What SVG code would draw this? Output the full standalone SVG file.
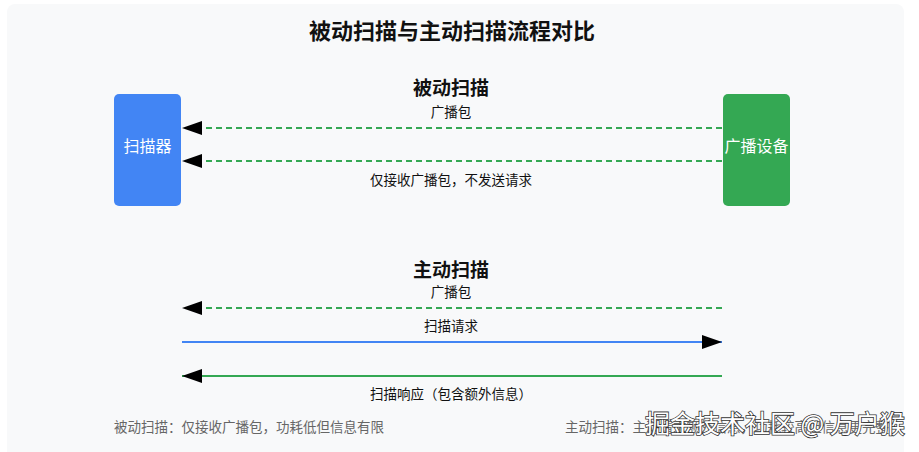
<svg xmlns="http://www.w3.org/2000/svg" width="919" height="452" viewBox="0 0 919 452">
<style>
text{font-family:"Noto Sans CJK SC","Noto Sans",sans-serif;}
.title{font-size:22px;font-weight:bold;fill:#111;text-anchor:middle;}
.sub{font-size:19px;font-weight:bold;fill:#111;text-anchor:middle;}
.lbl{font-size:13.5px;fill:#111;text-anchor:middle;}
.node{font-size:16px;fill:#fff;text-anchor:middle;}
.note{font-size:13.5px;fill:#666;}
.dash{stroke:#34a853;stroke-width:2;stroke-dasharray:6,4;fill:none;}
.green{stroke:#34a853;stroke-width:2;fill:none;}
.blue{stroke:#4285f4;stroke-width:2;fill:none;}
.wm{font-size:25px;fill:#fff;stroke:#333;stroke-width:1.6;paint-order:stroke;}
</style>
<defs>
<marker id="arr" markerUnits="userSpaceOnUse" markerWidth="20" markerHeight="14" refX="20" refY="7" orient="auto">
<path d="M0,0 L20,7 L0,14 z" fill="#000"/>
</marker>
</defs>
<rect x="0" y="0" width="919" height="452" fill="#fff"/>
<rect x="7" y="4" width="897" height="460" rx="8" fill="#f8f9fa"/>
<text class="title" x="452" y="39">被动扫描与主动扫描流程对比</text>

<g id="passive-title"><text class="sub" x="451" y="95">被动扫描</text></g>

<g id="scanner">
<rect x="114" y="94" width="67" height="112" rx="5" fill="#4285f4"/>
<text class="node" x="147.5" y="152">扫描器</text>
</g>
<g id="advertiser">
<rect x="723" y="94" width="67" height="112" rx="5" fill="#34a853"/>
<text class="node" x="756.5" y="152">广播设备</text>
</g>

<g id="active-title"><text class="sub" x="451" y="277">主动扫描</text></g>

<g id="connectors">
<line class="dash" x1="722" y1="128" x2="182" y2="128" marker-end="url(#arr)"/>
<text class="lbl" x="451" y="117">广播包</text>
<line class="dash" x1="722" y1="161" x2="182" y2="161" marker-end="url(#arr)"/>
<text class="lbl" x="451" y="185">仅接收广播包，不发送请求</text>

<line class="dash" x1="722" y1="308" x2="182" y2="308" marker-end="url(#arr)"/>
<text class="lbl" x="451" y="297">广播包</text>
<line class="blue" x1="182" y1="342" x2="722" y2="342" marker-end="url(#arr)"/>
<text class="lbl" x="451" y="331">扫描请求</text>
<line class="green" x1="722" y1="376" x2="182" y2="376" marker-end="url(#arr)"/>
<text class="lbl" x="451" y="399">扫描响应（包含额外信息）</text>
</g>

<text class="note" x="114" y="432">被动扫描：仅接收广播包，功耗低但信息有限</text>
<text class="note" x="565" y="432">主动扫描：主动请求额外信息，功耗较高但信息更完整</text>
<text class="wm" x="645" y="433">掘金技术社区 @ 万户猴</text>
</svg>
